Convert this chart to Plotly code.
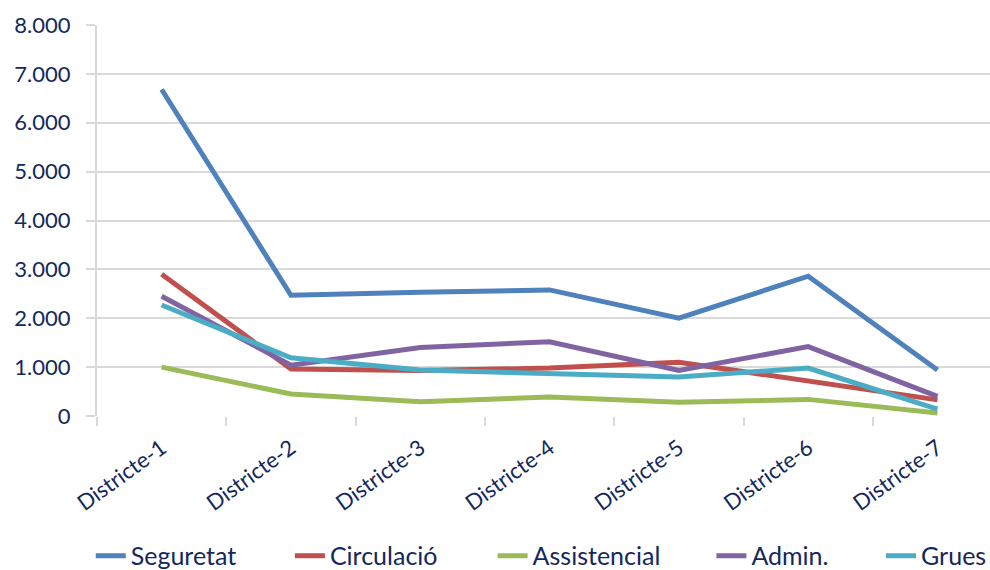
import plotly.graph_objects as go

districts = ["Districte-1", "Districte-2", "Districte-3", "Districte-4",
             "Districte-5", "Districte-6", "Districte-7"]
seguretat = [6680, 2470, 2530, 2580, 2000, 2860, 940]
circulacio = [2900, 960, 930, 980, 1100, 720, 330]
assistencial = [1000, 450, 290, 390, 280, 340, 60]
admin = [2450, 1040, 1400, 1520, 930, 1420, 400]
grues = [2270, 1190, 940, 860, 800, 980, 140]

series = [
    ("Seguretat", seguretat, "#4F81BD"),
    ("Circulació", circulacio, "#C0504D"),
    ("Assistencial", assistencial, "#9BBB59"),
    ("Admin.", admin, "#8064A2"),
    ("Grues", grues, "#4BACC6"),
]

text_color = "#13285C"
font_family = "Lato, Carlito, Calibri, sans-serif"

# horizontal legend entry positions (paper x), one legend per series
legend_x = [-0.007, 0.216, 0.443, 0.688, 0.878]
legend_ids = ["legend", "legend2", "legend3", "legend4", "legend5"]

fig = go.Figure()
for (name, vals, color), lid in zip(series, legend_ids):
    fig.add_trace(go.Scatter(
        x=districts, y=vals, name=name, mode="lines",
        line=dict(color=color, width=5),
        legend=lid,
    ))

layout_legends = {}
for lid, lx in zip(legend_ids, legend_x):
    layout_legends[lid] = dict(
        orientation="h", x=lx, xanchor="left", y=-0.358, yanchor="middle",
        font=dict(size=25, color=text_color, family=font_family),
        bgcolor="rgba(0,0,0,0)",
    )

fig.update_layout(
    width=990, height=570,
    margin=dict(l=97, r=0, t=25, b=154, autoexpand=False),
    paper_bgcolor="white", plot_bgcolor="white",
    separators=",.",
    font=dict(family=font_family, color=text_color, size=22),
    showlegend=True,
    **layout_legends,
)

fig.update_xaxes(
    type="category",
    range=[-0.5, 6.406],
    tickson="boundaries",
    ticks="outside", ticklen=9, tickcolor="#D9D9D9", tickwidth=2,
    showgrid=False,
    showline=False,
    tickangle=-36,
    ticklabelstandoff=14,
    tickfont=dict(size=22, color=text_color),
    zeroline=False,
    automargin=False,
)

fig.update_yaxes(
    range=[0, 8000],
    tickvals=[0, 1000, 2000, 3000, 4000, 5000, 6000, 7000, 8000],
    tickformat=",d",
    showgrid=True, gridcolor="#D9D9D9", gridwidth=2,
    ticks="outside", ticklen=9, tickcolor="#D9D9D9", tickwidth=2,
    showline=True, linecolor="#D9D9D9", linewidth=2,
    zeroline=False,
    ticklabelstandoff=11,
    tickfont=dict(size=22, color=text_color),
    automargin=False,
)

# remove the default page margin so the figure fills the window exactly
fig.write_html(
    "out.html",
    config={"displayModeBar": False},
    post_script="document.body.style.margin='0';document.body.style.overflow='hidden';",
)
